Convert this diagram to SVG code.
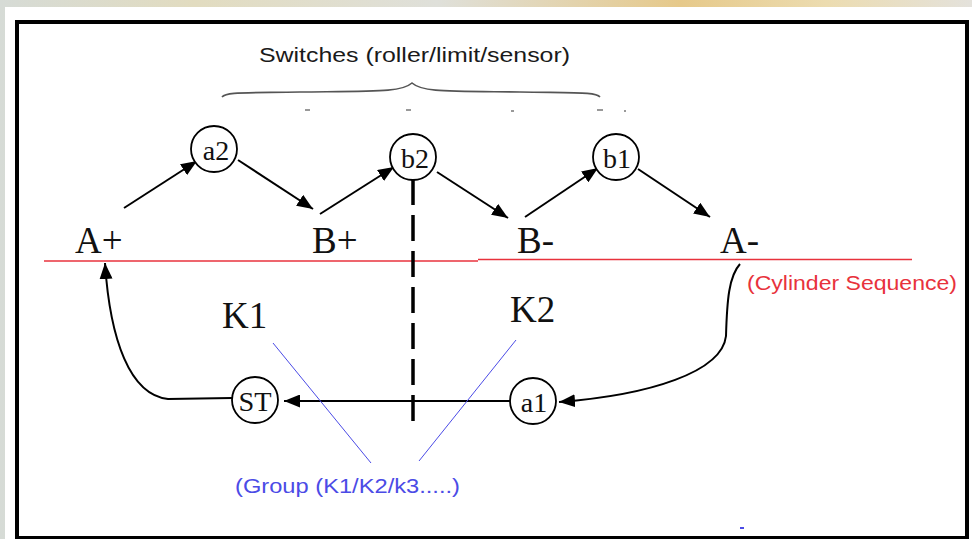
<svg xmlns="http://www.w3.org/2000/svg" width="972" height="539" viewBox="0 0 972 539">
<defs>
<linearGradient id="bg" x1="0" y1="0" x2="1" y2="0">
<stop offset="0" stop-color="#d6dbd6"/>
<stop offset="0.2" stop-color="#e2dcc0"/>
<stop offset="0.45" stop-color="#dfe0da"/>
<stop offset="0.7" stop-color="#e6c98a"/>
<stop offset="0.85" stop-color="#ecdcb0"/>
<stop offset="1" stop-color="#e4e2dc"/>
</linearGradient>
<marker id="ah" markerUnits="userSpaceOnUse" markerWidth="17" markerHeight="13" refX="16" refY="6.5" orient="auto">
<path d="M0,0 L16,6.5 L0,13 z" fill="#000"/>
</marker>
<style>
.node circle{fill:#fff;stroke:#000;stroke-width:1.8}
.node text{font-family:"Liberation Serif","Times New Roman",serif;font-size:28px;text-anchor:middle;fill:#111}
.lbl{font-family:"Liberation Serif","Times New Roman",serif;font-size:37px;fill:#111}
.conn{fill:none;stroke:#000;stroke-width:2;marker-end:url(#ah)}
.note{font-family:"Liberation Sans",Arial,sans-serif;font-size:20px}
.blue{stroke:#4b4be6;stroke-width:1;fill:none}
</style>
</defs>
<rect x="0" y="0" width="972" height="539" fill="url(#bg)"/>
<rect x="5" y="7" width="967" height="532" fill="#fff"/>
<rect x="17" y="22" width="950" height="516" fill="#fff" stroke="#000" stroke-width="4"/>

<g id="brace">
<path d="M222,97 C226,92 240,93 300,92 C380,91 402,92 412,83 C422,92 444,91 520,92 C580,93 596,92 600,97" fill="none" stroke="#555" stroke-width="1.6"/>
<g stroke="#777" stroke-width="1.5">
<line x1="305" y1="110" x2="310" y2="110"/>
<line x1="406" y1="110" x2="411" y2="110"/>
<line x1="511" y1="111" x2="514" y2="111"/>
<line x1="597" y1="110" x2="603" y2="110"/>
<line x1="624" y1="111" x2="626" y2="111"/>
</g>
</g>
<text class="note" x="259" y="62" fill="#1a1a1a" textLength="311" lengthAdjust="spacingAndGlyphs">Switches (roller/limit/sensor)</text>

<g id="sequence-line" stroke="#e8323c" stroke-width="1.6">
<line x1="44" y1="261" x2="478" y2="261"/>
<line x1="478" y1="259.5" x2="912" y2="259.5"/>
</g>
<text class="note" x="747" y="290" fill="#e8323c" textLength="210" lengthAdjust="spacingAndGlyphs">(Cylinder Sequence)</text>

<g id="connectors">
<line class="conn" x1="124" y1="208" x2="197" y2="161"/>
<line class="conn" x1="238" y1="160" x2="313" y2="209"/>
<line class="conn" x1="320" y1="214" x2="394" y2="167"/>
<line class="conn" x1="437" y1="172" x2="508" y2="218"/>
<line class="conn" x1="525" y1="217" x2="598" y2="168"/>
<line class="conn" x1="638" y1="169" x2="710" y2="217"/>
<line class="conn" x1="510" y1="401" x2="284" y2="401"/>
<path class="conn" d="M740,264 C729,276 727,300 726,336 C722,372 650,395 559,402"/>
<path class="conn" d="M232,398 L168,399 C130,395 110,340 105,263"/>
<line x1="413" y1="179" x2="413" y2="428" stroke="#000" stroke-width="3.5" stroke-dasharray="26 10"/>
</g>

<g id="group-lines">
<line class="blue" x1="273" y1="343" x2="371" y2="463"/>
<line class="blue" x1="516" y1="340" x2="419" y2="461"/>
</g>
<text class="note" x="235" y="493" fill="#4b4be6" textLength="225" lengthAdjust="spacingAndGlyphs">(Group (K1/K2/k3.....)</text>
<rect x="740" y="527" width="4" height="2" fill="#4b4be6"/>

<g id="A-plus"><text class="lbl" x="75" y="253">A+</text></g>
<g id="B-plus"><text class="lbl" x="312" y="253">B+</text></g>
<g id="B-minus"><text class="lbl" x="517" y="253">B-</text></g>
<g id="A-minus"><text class="lbl" x="720" y="253">A-</text></g>
<g id="K1"><text class="lbl" x="222" y="328">K1</text></g>
<g id="K2"><text class="lbl" x="510" y="322">K2</text></g>

<g id="a2" class="node"><circle cx="214" cy="149" r="23"/><text x="216" y="160">a2</text></g>
<g id="b2" class="node"><circle cx="413" cy="157" r="23"/><text x="415" y="168">b2</text></g>
<g id="b1" class="node"><circle cx="616" cy="157" r="23"/><text x="617" y="168">b1</text></g>
<g id="ST" class="node"><circle cx="255" cy="400" r="23"/><text x="255" y="411" textLength="33" lengthAdjust="spacingAndGlyphs">ST</text></g>
<g id="a1" class="node"><circle cx="533" cy="401" r="23"/><text x="534" y="412">a1</text></g>
</svg>
